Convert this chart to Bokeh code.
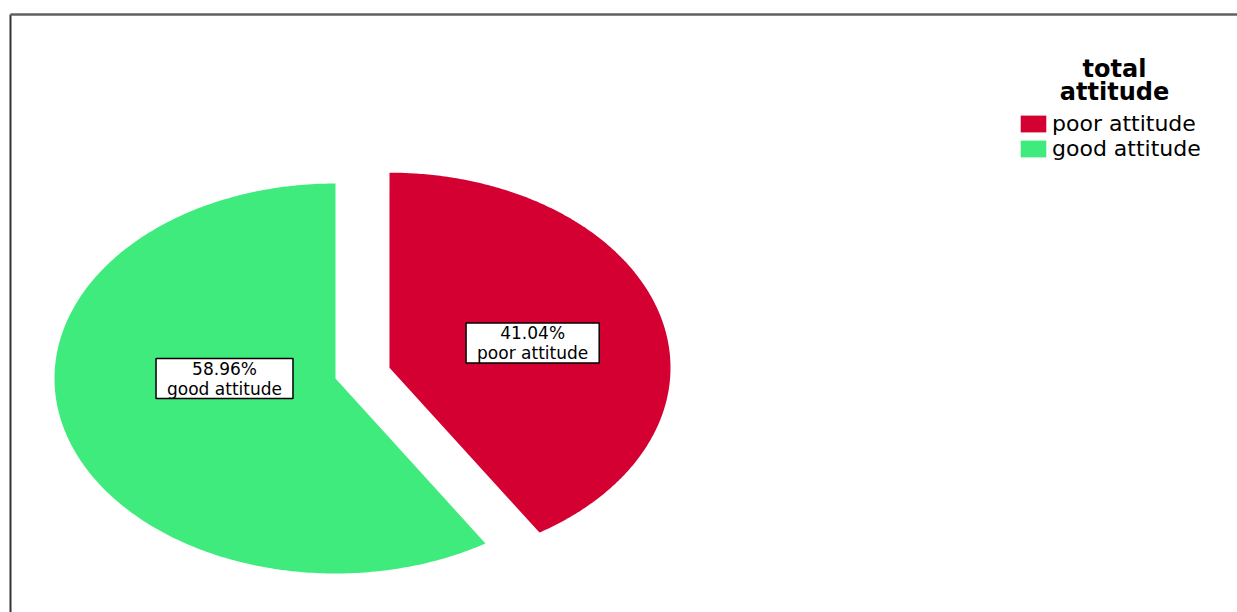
import numpy as np
from bokeh.plotting import figure
from bokeh.models import ColumnDataSource, Range1d, Legend, LegendItem, Label
from bokeh.core.properties import value
from bokeh.embed import file_html
from bokeh.resources import INLINE

# ---- data ----
categories = ["poor attitude", "good attitude"]
percents = [41.04, 58.96]
colors = ["#D50032", "#40EB7D"]
legend_title = ["total", "attitude"]

# ---- layout ----
W, H = 1237, 612
CX, CY = 335, 378          # pie centre, px from figure top-left
RX, RY = 281, 195          # pie radii in px
EXPLODE = [0.2, 0.0]       # fraction of radius
LABEL_POLAR = [(76, 0.525), (270, 0.395)]  # (deg clockwise from top, fraction of radius)

x_range = Range1d(-CX / RX, (W - CX) / RX)
y_range = Range1d(-(H - CY) / RY, CY / RY)

p = figure(width=W, height=H, x_range=x_range, y_range=y_range,
           output_backend="svg", toolbar_location=None,
           x_axis_type=None, y_axis_type=None, min_border=0)
p.outline_line_color = None
p.background_fill_color = "white"
p.border_fill_color = "white"

# border lines (top and left)
xl = x_range.start + 10 / RX
yt = y_range.end - 14 / RY
p.line(x=[xl, xl], y=[yt, y_range.start], line_color="#333333", line_width=2)
p.line(x=[xl, x_range.end], y=[yt, yt], line_color="#606060", line_width=2.5)

# ---- wedges ----
total = sum(percents)
cum = np.concatenate([[0], np.cumsum(percents)]) / total * 360.0
xs, ys, lx, ly, lt = [], [], [], [], []
for i, (cat, pct) in enumerate(zip(categories, percents)):
    a0, a1 = cum[i], cum[i + 1]
    mid = np.radians((a0 + a1) / 2)
    ox, oy = EXPLODE[i] * np.sin(mid), EXPLODE[i] * np.cos(mid)
    t = np.radians(np.linspace(a0, a1, 300))
    xs.append([ox] + list(ox + np.sin(t)) + [ox])
    ys.append([oy] + list(oy + np.cos(t)) + [oy])
    ang, r = LABEL_POLAR[i]
    lx.append(ox + r * np.sin(np.radians(ang)))
    ly.append(oy + r * np.cos(np.radians(ang)))
    lt.append(f"{pct:.2f}%\n{cat}")

src = ColumnDataSource(dict(xs=xs, ys=ys, color=colors, cat=categories))
wedges = p.patches(xs="xs", ys="ys", fill_color="color", line_color=None, source=src)

lsrc = ColumnDataSource(dict(x=lx, y=ly, text=lt))
p.text(x="x", y="y", text="text", source=lsrc,
       text_font=value("DejaVu Sans"), text_font_size="17px",
       text_color="black", text_align="center", text_baseline="middle",
       text_line_height=1.0,
       background_fill_color="white", border_line_color="black",
       border_line_width=1.5, padding=(11, 0))

# ---- legend ----
items = [LegendItem(label=c, renderers=[wedges], index=i) for i, c in enumerate(categories)]
legend = Legend(items=items, location=(1017, 451),
                glyph_width=32, glyph_height=21, label_height=21,
                label_standoff=3, spacing=0, padding=0, margin=0,
                border_line_color=None, background_fill_alpha=0,
                label_text_font="DejaVu Sans", label_text_font_size="22px",
                label_text_color="black")
p.add_layout(legend)

for j, (txt, yb) in enumerate(zip(legend_title, [68, 91])):
    p.add_layout(Label(x=1114, y=H - yb, x_units="screen", y_units="screen",
                       text=txt, text_align="center", text_baseline="alphabetic",
                       text_font="DejaVu Sans", text_font_style="bold",
                       text_font_size="24px", text_color="black"))

open("out.html", "w").write(file_html(p, INLINE))
